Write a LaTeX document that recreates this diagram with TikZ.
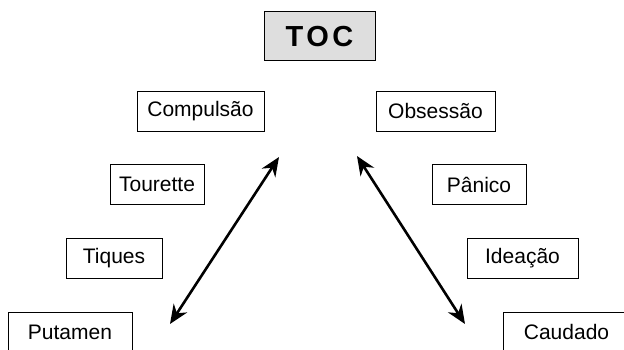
\documentclass[tikz,border=0pt]{standalone}
\usepackage{fontspec}
\setmainfont{Liberation Sans}
\newfontfamily\tocfont[LetterSpace=12]{Liberation Sans}
\usetikzlibrary{arrows.meta}
\definecolor{tocgray}{HTML}{DEDEDE}

\begin{document}
\begin{tikzpicture}[x=1pt, y=-1pt,
        term/.style={draw, rectangle, line width=0.9pt, minimum height=40pt, inner sep=0pt, font=\fontsize{21}{25}\selectfont},
        title/.style={draw, rectangle, line width=1pt, fill=tocgray, minimum width=111pt, minimum height=49pt, font=\fontsize{29}{34}\selectfont\tocfont\bfseries},
        link/.style={line width=2.6pt, {Stealth[length=19pt,width=16pt]}-{Stealth[length=19pt,width=16pt]}}
      ]
    \useasboundingbox (0,0) rectangle (624,350);

    \node[title] (toc) at (319.5,36.5) {TOC};

    % left column
    \node[term, minimum width=127pt] (comp) at (200.5,111) {Compulsão};
    \node[term, minimum width=94pt] (tour) at (157,184.5) {Tourette};
    \node[term, minimum width=96pt] (tiq) at (114,258.5) {Tiques};
    \node[term, minimum width=124pt] (put) at (70,332) {Putamen};

    % right column
    \node[term, minimum width=119pt] (obs) at (435.5,111) {Obsessão};
    \node[term, minimum width=94pt] (pan) at (479,184.5) {Pânico};
    \node[term, minimum width=111pt] (idea) at (522.5,258.5) {Ideação};
    \node[term, minimum width=127pt] (caud) at (566.5,332) {Caudado};

    \coordinate (lt) at (279,157);
    \coordinate (lb) at (170,324);
    \coordinate (rt) at (357,156);
    \coordinate (rb) at (465,324);
    \draw[link] (lt) -- (lb);
    \draw[link] (rt) -- (rb);
\end{tikzpicture}
\end{document}
